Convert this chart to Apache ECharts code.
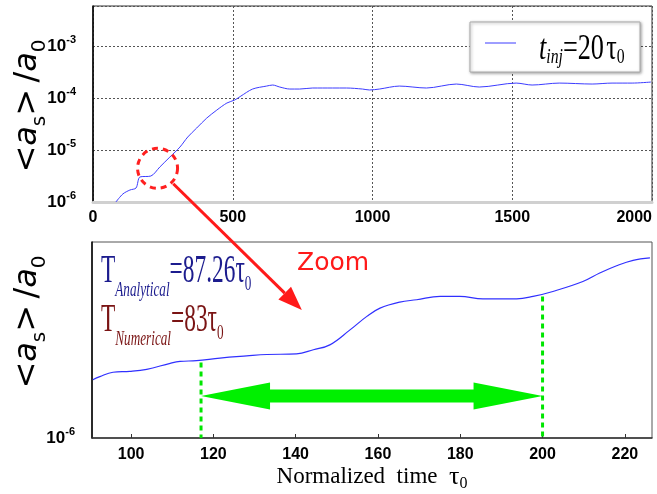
<!DOCTYPE html>
<html><head><meta charset="utf-8">
<script src="https://cdn.jsdelivr.net/npm/echarts@6/dist/echarts.min.js"></script>
<style>html,body{margin:0;padding:0;background:#fff}#c{width:657px;height:494px}</style>
</head><body><div id="c"></div>
<script>
// ---- data ----
// top panel: full run
const topTime = [82,107,132,154,168,207,239,275,311,339,371,407,443,479,507,529,571,621,643,668,704,739,786,857,907,964,989,1025,1096,1193,1300,1382,1514,1571,1668,1786,1857,1929,1996];
const topAmp  = [1.0e-6,1.43e-6,1.70e-6,1.86e-6,3.03e-6,3.16e-6,4.71e-6,7.33e-6,1.14e-5,1.78e-5,2.65e-5,4.12e-5,5.87e-5,8.02e-5,9.16e-5,1.09e-4,1.49e-4,1.70e-4,1.78e-4,1.63e-4,1.49e-4,1.49e-4,1.56e-4,1.56e-4,1.56e-4,1.49e-4,1.43e-4,1.49e-4,1.70e-4,1.56e-4,1.86e-4,1.63e-4,1.94e-4,1.78e-4,1.94e-4,1.86e-4,1.94e-4,1.94e-4,2.03e-4];
// bottom panel: zoom
const zoomTime = [90.7,92.4,95.6,99.7,103.8,109.5,111.9,115.9,121.6,128.1,133.0,140.2,144.3,148.3,153.2,157.3,160.5,165.3,169.4,175.1,179.9,185.5,193.7,197.7,202.5,209.8,213.9,218.0,222.0,226.1];
const zoomAmp  = [1.92e-6,1.99e-6,2.09e-6,2.11e-6,2.16e-6,2.31e-6,2.36e-6,2.38e-6,2.45e-6,2.51e-6,2.55e-6,2.57e-6,2.69e-6,2.84e-6,3.36e-6,3.91e-6,4.29e-6,4.59e-6,4.71e-6,4.89e-6,4.89e-6,4.76e-6,4.76e-6,4.89e-6,5.17e-6,5.78e-6,6.36e-6,6.90e-6,7.33e-6,7.53e-6];
// growth-time markers (dashed green lines) and arrow between them
const markTime = [117, 200];
const markAmp  = [2.33e-6, 4.89e-6];
const arrowAmp = 1.60e-6;
// zoom annotation: circle on top panel, arrow tip on bottom panel
const circleAt = [231, 4.45e-6];
const arrowTipAt = [141.5, 4.2e-6];
const legendLabel = 't_inj = 20 τ0';

const sans = 'Liberation Sans';
const serif = 'Liberation Serif';
function powLabel(v){
  const e = Math.log10(v), r = Math.round(e);
  if (Math.abs(e - r) > 1e-6) return '';
  return '{b|10}{p|' + r + '}';
}
const tickRich = {
  b:{fontSize:17,fontWeight:'bold',fontFamily:sans,color:'#000'},
  p:{fontSize:11,fontWeight:'bold',fontFamily:sans,color:'#000',padding:[0,0,12,0]}
};
const xLabel = {fontSize:16,fontWeight:'bold',fontFamily:sans,color:'#000',formatter:v=>String(v)};

const chart = echarts.init(document.getElementById('c'));
chart.setOption({
  animation:false,
  backgroundColor:'#fff',
  grid:[
    {left:93,top:6,width:559,height:196,show:true,borderColor:'#333',borderWidth:1,backgroundColor:'#fff'},
    {left:92,top:242,width:560,height:196,show:true,borderColor:'#555',borderWidth:1,backgroundColor:'#fff'}
  ],
  xAxis:[
    {gridIndex:0,type:'value',min:0,max:2000,interval:500,
     axisLine:{show:true,onZero:false,lineStyle:{color:'#d0d0d0',width:3}},
     axisTick:{show:false},
     splitLine:{show:true,lineStyle:{color:'#555',type:[2,2],width:1}},
     axisLabel:Object.assign({margin:8,alignMaxLabel:'right'},xLabel)},
    {gridIndex:1,type:'value',min:90.5,max:226.6,splitNumber:7,
     axisLine:{show:true,onZero:false,lineStyle:{color:'#333',width:1.5}},
     axisTick:{show:true,inside:true,length:4,lineStyle:{color:'#333'}},
     splitLine:{show:false},
     axisLabel:Object.assign({margin:9,showMinLabel:false,showMaxLabel:false},xLabel),
     name:'Normalized  time  {t|τ}{s|0}',nameLocation:'middle',nameGap:20,
     nameTextStyle:{fontFamily:serif,fontSize:23,color:'#000',
       rich:{t:{fontFamily:serif,fontSize:26,color:'#000'},s:{fontFamily:serif,fontSize:16,color:'#000',padding:[14,0,0,0]}}}}
  ],
  yAxis:[
    {gridIndex:0,type:'log',min:1e-6,max:0.0059,
     axisLine:{show:true,lineStyle:{color:'#000',width:1.5}},
     axisTick:{show:false},
     splitLine:{show:true,lineStyle:{color:'#555',type:[2,2],width:1}},
     axisLabel:{formatter:powLabel,rich:tickRich,margin:17,showMaxLabel:false}},
    {gridIndex:1,type:'log',min:1e-6,max:9e-6,
     axisLine:{show:true,lineStyle:{color:'#000',width:1.5}},
     axisTick:{show:false},
     splitLine:{show:false},
     axisLabel:{formatter:powLabel,rich:tickRich,margin:17,showMaxLabel:false}}
  ],
  series:[
    {name:legendLabel,type:'line',xAxisIndex:0,yAxisIndex:0,showSymbol:false,smooth:0.3,
     data:topTime.map((t,i)=>[t,topAmp[i]]),lineStyle:{color:'#3c3cff',width:1}},
    {type:'line',xAxisIndex:1,yAxisIndex:1,showSymbol:false,smooth:0.4,
     data:zoomTime.map((t,i)=>[t,zoomAmp[i]]),lineStyle:{color:'#3030ff',width:1.2}},
    {type:'line',xAxisIndex:1,yAxisIndex:1,showSymbol:false,
     data:[[markTime[0],markAmp[0]],[markTime[0],1e-6]],lineStyle:{color:'#00e600',width:3,type:[5,4]}},
    {type:'line',xAxisIndex:1,yAxisIndex:1,showSymbol:false,
     data:[[markTime[1],markAmp[1]],[markTime[1],1e-6]],lineStyle:{color:'#00e600',width:3,type:[5,4]}},
    {type:'custom',xAxisIndex:1,yAxisIndex:1,encode:{x:[0,1],y:2},
     data:[[markTime[0],markTime[1],arrowAmp]],
     renderItem:function(params,api){
       const a = api.coord([api.value(0),api.value(2)]);
       const b = api.coord([api.value(1),api.value(2)]);
       const hl=69, hh=13.5, sh=6.5, y=a[1];
       const pts=[[a[0],y],[a[0]+hl,y-hh],[a[0]+hl,y-sh],[b[0]-hl,y-sh],[b[0]-hl,y-hh],[b[0],y],
                  [b[0]-hl,y+hh],[b[0]-hl,y+sh],[a[0]+hl,y+sh],[a[0]+hl,y+hh]];
       return {type:'polygon',shape:{points:pts},style:{fill:'#00f000'}};
     }}
  ]
});

// ---- annotations ----
const c = chart.convertToPixel({xAxisIndex:0,yAxisIndex:0},circleAt);
const tip = chart.convertToPixel({xAxisIndex:1,yAxisIndex:1},arrowTipAt);
const R = 20;
const dx = tip[0]-c[0], dy = tip[1]-c[1], L = Math.hypot(dx,dy), ux = dx/L, uy = dy/L;
const start = [c[0]+ux*(R+2), c[1]+uy*(R+2)];
const headL = 24, headW = 9;
const base = [tip[0]-ux*headL, tip[1]-uy*headL];

function rt(x,y,text,rich,opts){
  return {type:'text',x:x,y:y,z:100,
    style:Object.assign({text:text,rich:rich,align:'left',verticalAlign:'middle',textAlign:'left',textVerticalAlign:'middle',legacy:false},opts||{})};
}
const big = (col,fs,it)=>({fontSize:fs,fontFamily:serif,fontStyle:it?'italic':'normal',fill:col,color:col});
const sub = (col,fs,it,pad)=>({fontSize:fs,fontFamily:serif,fontStyle:it?'italic':'normal',fill:col,color:col,padding:[pad,0,0,0]});

const blue = '#1c1c8e', red = '#7a1414';
const titleRich = {
  b:{fontSize:32,fontFamily:'DejaVu Sans',fill:'#000',color:'#000'},
  i:{fontSize:32,fontFamily:'DejaVu Sans',fontStyle:'italic',fill:'#000',color:'#000'},
  s:{fontSize:20,fontFamily:'DejaVu Sans',fill:'#000',color:'#000',padding:[24,0,0,0]}
};
const titleText = '{b|<}{i|a}{s|s}{b|>}{s| }{b|/}{i|a}{s|0}';

const elements = [
  // legend
  {type:'rect',shape:{x:470,y:22,width:170,height:50},z:90,
   style:{fill:'#fff',stroke:'#aaa',lineWidth:1,shadowBlur:3,shadowColor:'rgba(0,0,0,0.35)',shadowOffsetX:1,shadowOffsetY:1}},
  {type:'line',shape:{x1:485,y1:43,x2:516,y2:43},z:95,style:{stroke:'#3c3cff',lineWidth:1}},
  Object.assign(rt(539,50,'{i|t}{si|inj}{r|=20}{sp| }{r|τ}{s|0}',
    {i:big('#000',35,true),si:sub('#000',21,true,15),r:big('#000',35,false),sp:big('#000',12,false),s:sub('#000',21,false,15)}),{scaleX:0.75}),
  // axis titles
  Object.assign(rt(28,106,titleText,titleRich,{align:'center',textAlign:'center'}),{rotation:Math.PI/2}),
  Object.assign(rt(28,322,titleText,titleRich,{align:'center',textAlign:'center'}),{rotation:Math.PI/2}),
  // growth times
  Object.assign(rt(101,272,'{T|T}{s|Analytical}{T|=87.26}{T|τ}{z|0}',
    {T:big(blue,39,false),s:sub(blue,22,true,36),z:sub(blue,22,false,24)}),{scaleX:0.6}),
  Object.assign(rt(101,321,'{T|T}{s|Numerical}{T|=83}{T|τ}{z|0}',
    {T:big(red,39,false),s:sub(red,22,true,36),z:sub(red,22,false,24)}),{scaleX:0.6}),
  // Zoom label
  rt(297,263,'{z|Zoom}',{z:{fontSize:25,fontFamily:'DejaVu Sans',fill:'#ff1a1a',color:'#ff1a1a'}}),
  // dashed circle
  {type:'circle',shape:{cx:c[0],cy:c[1],r:R},z:100,style:{fill:null,stroke:'#ff2020',lineWidth:3,lineDash:[6,5]}},
  // red arrow
  {type:'line',shape:{x1:start[0],y1:start[1],x2:base[0],y2:base[1]},z:100,style:{stroke:'#ff1a1a',lineWidth:3}},
  {type:'polygon',shape:{points:[tip,[base[0]-uy*headW,base[1]+ux*headW],[base[0]+uy*headW,base[1]-ux*headW]]},z:100,style:{fill:'#ff1a1a'}}
];
chart.setOption({graphic:{elements:elements}});
</script>
</body></html>
